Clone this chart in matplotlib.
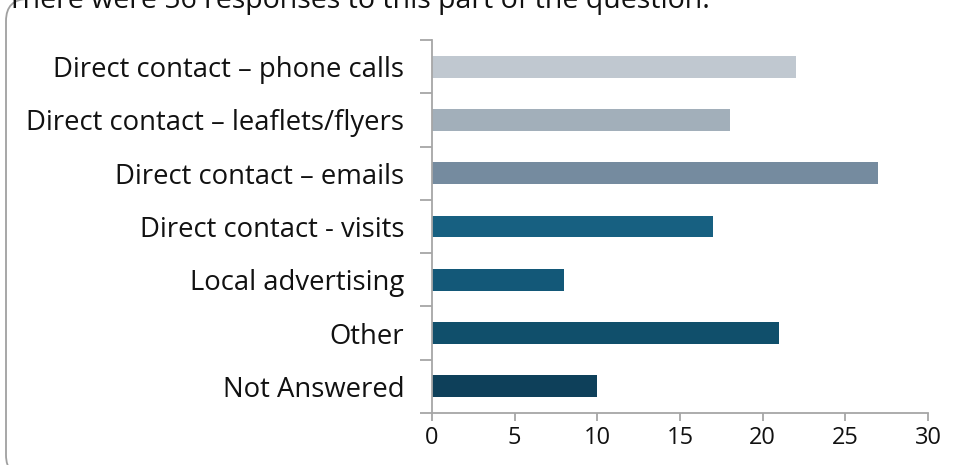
import matplotlib.pyplot as plt
from matplotlib.patches import FancyBboxPatch
import numpy as np

categories = ['Direct contact \u2013 phone calls', 'Direct contact \u2013 leaflets/flyers',
              'Direct contact \u2013 emails', 'Direct contact - visits',
              'Local advertising', 'Other', 'Not Answered']
counts = [22, 18, 27, 17, 8, 21, 10]
colors = ['#c0c8d0', '#a2afba', '#758b9f', '#176081', '#135878', '#104f6b', '#0e405a']
xticks = [0, 5, 10, 15, 20, 25, 30]

plt.rcParams['font.family'] = ['Open Sans', 'DejaVu Sans']
axis_grey = '#a6a6a6'

fig = plt.figure(figsize=(9.59, 4.65), dpi=100)

# rounded frame around the chart (drawn in pixels)
frame = FancyBboxPatch((6, -12), 1000, 478, boxstyle='round,pad=0,rounding_size=22',
                       transform=None, fill=False, edgecolor='#a0a0a0', linewidth=1.3)
fig.patches.append(frame)

fig.text(7 / 959, 1 - 8 / 465, 'There were 56 responses to this part of the question.',
         fontsize=20.5, va='baseline', ha='left', color='#111111')

ax = fig.add_axes([432 / 959, 1 - 413 / 465, 496 / 959, 373 / 465])
y = np.arange(len(categories))
ax.barh(y, counts, height=0.41, color=colors)

ax.set_ylim(len(categories) - 0.5, -0.5)
ax.set_xlim(0, 30)
ax.set_xticks(xticks)
ax.set_yticks(y)
ax.set_yticklabels(categories)
ax.set_yticks(np.arange(len(categories) + 1) - 0.5, minor=True)

for side in ['top', 'right']:
    ax.spines[side].set_visible(False)
for side in ['left', 'bottom']:
    ax.spines[side].set_color(axis_grey)
    ax.spines[side].set_linewidth(1.3)

ax.tick_params(axis='y', which='major', length=0, pad=20, labelsize=19.8, labelcolor='#111111')
ax.tick_params(axis='y', which='minor', length=9, width=1.3, color=axis_grey)
ax.tick_params(axis='x', length=6, width=1.3, color=axis_grey, pad=3,
               labelsize=17, labelcolor='#111111')

fig.savefig('out.png', dpi=100)
